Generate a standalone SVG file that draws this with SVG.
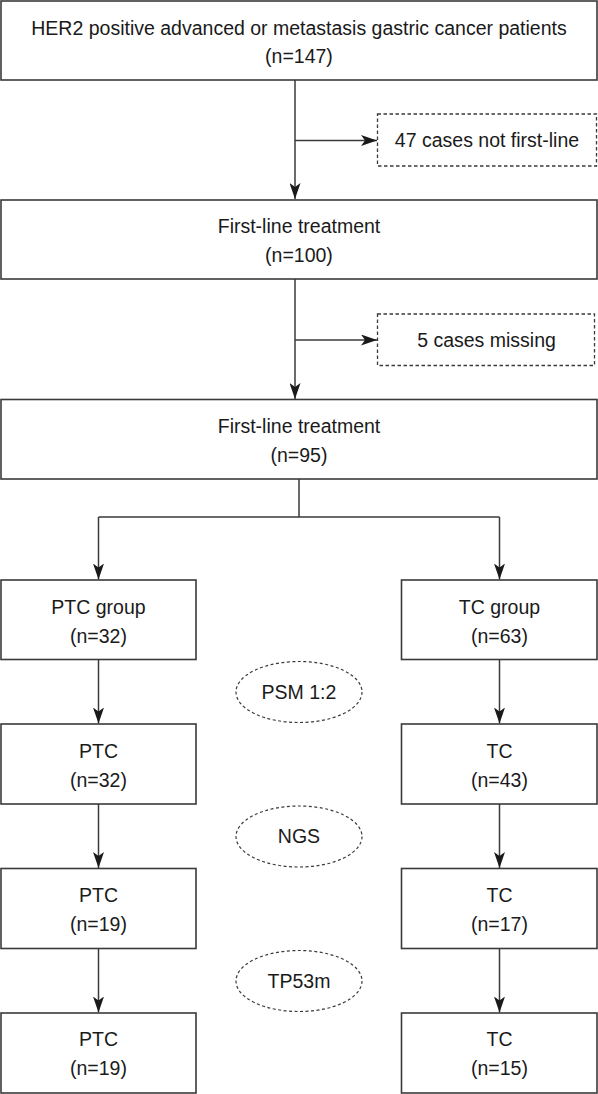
<svg xmlns="http://www.w3.org/2000/svg" width="598" height="1094" viewBox="0 0 598 1094">
<style>
.box{fill:#fff;stroke:#3a3a3a;stroke-width:1.6}
.dbox{fill:#fff;stroke:#3a3a3a;stroke-width:1.3;stroke-dasharray:3.5 2.5}
.ell{fill:#fff;stroke:#3a3a3a;stroke-width:1.2;stroke-dasharray:3 2.5}
.ln{fill:none;stroke:#3a3a3a;stroke-width:1.5}
.arr{marker-end:url(#ah)}
text{font-family:"Liberation Sans",Arial,Helvetica,sans-serif;font-size:19.5px;fill:#1a1a1a;text-anchor:middle}
</style>
<defs>
<marker id="ah" viewBox="0 0 16 11" refX="16" refY="5.5" markerWidth="16" markerHeight="11" markerUnits="userSpaceOnUse" orient="auto">
<path d="M0,0 L16,5.5 L0,11 L4,5.5 Z" fill="#1a1a1a"/>
</marker>
</defs>
<g id="connectors">
<path class="ln arr" d="M295,80 V199"/>
<path class="ln arr" d="M295,140.5 H377"/>
<path class="ln arr" d="M295,279 V399"/>
<path class="ln arr" d="M295,340 H377"/>
<path class="ln" d="M299,479 V517 M98.5,517 H499.5"/>
<path class="ln arr" d="M98.5,517 V579.5"/>
<path class="ln arr" d="M499.5,517 V579.5"/>
<path class="ln arr" d="M98.5,659.5 V723.5"/>
<path class="ln arr" d="M499.5,659.5 V723.5"/>
<path class="ln arr" d="M98.5,804 V868"/>
<path class="ln arr" d="M499.5,804 V868"/>
<path class="ln arr" d="M98.5,948.5 V1012.5"/>
<path class="ln arr" d="M499.5,948.5 V1012.5"/>
</g>
<g id="n-all"><rect class="box" x="1" y="1" width="596" height="79"/><text x="299" y="35">HER2 positive advanced or metastasis gastric cancer patients</text><text x="299" y="63">(n=147)</text></g>
<g id="n-excl1"><rect class="dbox" x="377.5" y="114" width="219" height="52"/><text x="487" y="147">47 cases not first-line</text></g>
<g id="n-first100"><rect class="box" x="1" y="200" width="596" height="79"/><text x="299" y="233">First-line treatment</text><text x="299" y="262">(n=100)</text></g>
<g id="n-excl2"><rect class="dbox" x="377.5" y="314" width="217" height="51.5"/><text x="486.5" y="347">5 cases missing</text></g>
<g id="n-first95"><rect class="box" x="1" y="399.5" width="596" height="79.5"/><text x="299" y="433">First-line treatment</text><text x="299" y="462">(n=95)</text></g>
<g id="n-ptc-group"><rect class="box" x="1" y="580" width="195" height="79.5"/><text x="98.5" y="614">PTC group</text><text x="98.5" y="643">(n=32)</text></g>
<g id="n-tc-group"><rect class="box" x="401.5" y="580" width="195.5" height="79.5"/><text x="499.5" y="614">TC group</text><text x="499.5" y="643">(n=63)</text></g>
<g id="n-psm"><ellipse class="ell" cx="299" cy="692" rx="63" ry="30.5"/><text x="299" y="698.5">PSM 1:2</text></g>
<g id="n-ptc32"><rect class="box" x="1" y="724" width="195" height="80"/><text x="98.5" y="757.5">PTC</text><text x="98.5" y="786.5">(n=32)</text></g>
<g id="n-tc43"><rect class="box" x="401.5" y="724" width="195.5" height="80"/><text x="499.5" y="757.5">TC</text><text x="499.5" y="786.5">(n=43)</text></g>
<g id="n-ngs"><ellipse class="ell" cx="299" cy="836.5" rx="63" ry="30.5"/><text x="299" y="843">NGS</text></g>
<g id="n-ptc19a"><rect class="box" x="1" y="868.5" width="195" height="80"/><text x="98.5" y="902">PTC</text><text x="98.5" y="931">(n=19)</text></g>
<g id="n-tc17"><rect class="box" x="401.5" y="868.5" width="195.5" height="80"/><text x="499.5" y="902">TC</text><text x="499.5" y="931">(n=17)</text></g>
<g id="n-tp53"><ellipse class="ell" cx="299" cy="981" rx="63" ry="30.5"/><text x="299" y="987.5">TP53m</text></g>
<g id="n-ptc19b"><rect class="box" x="1" y="1013" width="195" height="80"/><text x="98.5" y="1046">PTC</text><text x="98.5" y="1075">(n=19)</text></g>
<g id="n-tc15"><rect class="box" x="401.5" y="1013" width="195.5" height="80"/><text x="499.5" y="1046">TC</text><text x="499.5" y="1075">(n=15)</text></g>
</svg>
